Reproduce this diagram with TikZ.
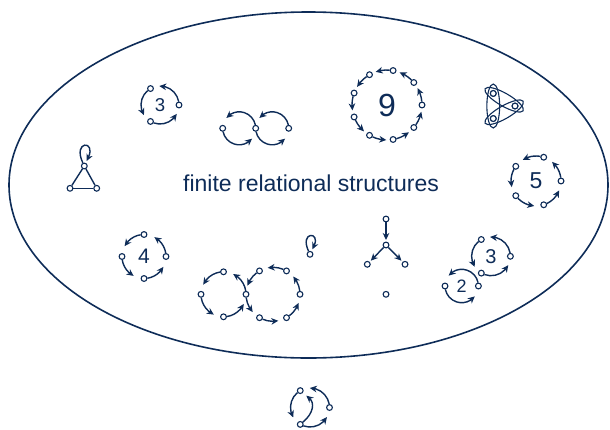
\documentclass[tikz,border=0pt]{standalone}
\usepackage{fontspec}
\setmainfont{Liberation Sans}
\usetikzlibrary{calc,arrows.meta}
\definecolor{navy}{RGB}{14,44,88}
\begin{document}
\begin{tikzpicture}[x=0.5pt,y=0.5pt,
 v/.style={circle,draw=navy,fill=white,line width=0.55pt,inner sep=0pt,minimum size=2.9pt},
 arr/.style={draw=navy,line width=0.7pt,-{Stealth[length=3.5pt,width=3.3pt,inset=1.1pt]},shorten >=3.2pt},
 sarr/.style={arr,shorten >=0.8pt},
 larr/.style={arr,shorten >=1pt},
 cyc/.style={draw=navy,line width=0.7pt,-{Stealth[length=3.5pt,width=3.3pt,inset=1.1pt]}},
 edgeline/.style={draw=navy,line width=0.7pt},
 hyper/.style={draw=navy,line width=0.55pt},
 num/.style={text=navy,inner sep=0pt},
 ring/.style n args={5}{to path={($(#1)+({#2+195/#4}:#4)$) arc[start angle={#2+195/#4}, end angle={#3-(#5+3)*114.6/#4}, radius=#4] -- ($(#1)+({#3-#5*114.6/#4}:#4)$)}}]
\useasboundingbox (0,0) rectangle (610,-429);

% big ellipse and title
\draw[edgeline,line width=0.8pt] (308.5,-185) ellipse [x radius=299.5,y radius=173];
\node[num,font=\fontsize{11.5}{13}\selectfont] (title) at (311,-183) {finite relational structures};

% 3-cycle top left
\coordinate (cA) at (160,-105);
\node[v] (a1) at ($(cA)+(0:19)$) {};
\node[v] (a2) at ($(cA)+(120:19)$) {};
\node[v] (a3) at ($(cA)+(240:19)$) {};
\node[num,font=\fontsize{9.3}{10}\selectfont] (la) at (cA) {3};
\draw[cyc] (a1) to[ring={cA}{0}{120}{19}{4.6}] (a2);
\draw[cyc] (a2) to[ring={cA}{120}{240}{19}{4.6}] (a3);
\draw[cyc] (a3) to[ring={cA}{240}{360}{19}{4.6}] (a1);

% double loop
\coordinate (cDl) at (239.2,-128.3);
\coordinate (cDr) at (272.2,-128.3);
\node[v] (d1) at (222.7,-128.3) {};
\node[v] (d2) at (255.7,-128.3) {};
\node[v] (d3) at (288.7,-128.3) {};
\draw[cyc] (d2) to[ring={cDl}{0}{180}{16.5}{5.6}] (d1);
\draw[cyc] (d1) to[ring={cDl}{180}{360}{16.5}{5.6}] (d2);
\draw[cyc] (d3) to[ring={cDr}{0}{180}{16.5}{5.6}] (d2);
\draw[cyc] (d2) to[ring={cDr}{180}{360}{16.5}{5.6}] (d3);

% 9-cycle
\coordinate (cE) at (387,-105);
\foreach \k in {0,...,8} \node[v] (e\k) at ($(cE)+({40*\k}:35)$) {};
\node[num,font=\fontsize{16}{18}\selectfont] (le) at (cE) {9};
\foreach \k in {0,...,8} {
  \pgfmathtruncatemacro{\nk}{mod(\k+1,9)}
  \draw[cyc] (e\k) to[ring={cE}{40*\k}{40*\k+40}{35}{3.4}] (e\nk);
}

% hypergraph triangle
\coordinate (cF) at (500.5,-106);
\node[v] (h1) at ($(cF)+(0:14.5)$) {};
\node[v] (h2) at ($(cF)+(120:14.5)$) {};
\node[v] (h3) at ($(cF)+(240:14.5)$) {};
\coordinate (m12) at ($(h1)!0.5!(h2)$);
\coordinate (m23) at ($(h2)!0.5!(h3)$);
\coordinate (m31) at ($(h3)!0.5!(h1)$);
\draw[hyper,shift={(m12)},rotate=150] (0,0) ellipse [x radius=22,y radius=6.4];
\draw[hyper,shift={(m23)},rotate=90] (0,0) ellipse [x radius=22,y radius=6.4];
\draw[hyper,shift={(m31)},rotate=30] (0,0) ellipse [x radius=22,y radius=6.4];
\node[v] at (h1) {};
\node[v] at (h2) {};
\node[v] at (h3) {};

% triangle with loop
\node[v] (t1) at (84.3,-166) {};
\node[v] (t2) at (70,-188.3) {};
\node[v] (t3) at (96.7,-188.3) {};
\draw[edgeline] (t1) -- (t2);
\draw[edgeline] (t2) -- (t3);
\draw[edgeline] (t3) -- (t1);
\draw[larr] (t1) to[out=115,in=65,min distance=12.5pt] (t1);

% 5-cycle
\coordinate (cH) at (536,-181);
\foreach \k in {0,...,4} \node[v] (f\k) at ($(cH)+({72*\k}:25)$) {};
\node[num,font=\fontsize{11.5}{13}\selectfont] (lf) at (cH) {5};
\foreach \k in {0,...,4} {
  \pgfmathtruncatemacro{\nk}{mod(\k+1,5)}
  \draw[cyc] (f\k) to[ring={cH}{72*\k}{72*\k+72}{25}{4.8}] (f\nk);
}

% 4-cycle
\coordinate (cI) at (144,-256.5);
\foreach \k in {0,...,3} \node[v] (g\k) at ($(cI)+({90*\k}:22)$) {};
\node[num,font=\fontsize{10.5}{12}\selectfont] (lg) at (cI) {4};
\foreach \k in {0,...,3} {
  \pgfmathtruncatemacro{\nk}{mod(\k+1,4)}
  \draw[cyc] (g\k) to[ring={cI}{90*\k}{90*\k+90}{22}{5.4}] (g\nk);
}

% figure eight
\coordinate (cJl) at (223.5,-294.3);
\coordinate (cJr) at (273,-294.3);
\node[v] (j0) at (246,-294.3) {};
\node[v] (j1) at ($(cJl)+(90:22.5)$) {};
\node[v] (j2) at ($(cJl)+(180:22.5)$) {};
\node[v] (j3) at ($(cJl)+(270:22.5)$) {};
\node[v] (k1) at ($(cJr)+(240:27)$) {};
\node[v] (k2) at ($(cJr)+(300:27)$) {};
\node[v] (k3) at ($(cJr)+(0:27)$) {};
\node[v] (k4) at ($(cJr)+(60:27)$) {};
\node[v] (k5) at ($(cJr)+(120:27)$) {};
\draw[cyc] (j0) to[ring={cJl}{0}{90}{22.5}{5}] (j1);
\draw[cyc] (j1) to[ring={cJl}{90}{180}{22.5}{5}] (j2);
\draw[cyc] (j2) to[ring={cJl}{180}{270}{22.5}{5}] (j3);
\draw[cyc] (j3) to[ring={cJl}{270}{360}{22.5}{5}] (j0);
\draw[cyc] (j0) to[ring={cJr}{180}{240}{27}{4.4}] (k1);
\draw[cyc] (k1) to[ring={cJr}{240}{300}{27}{4.4}] (k2);
\draw[cyc] (k2) to[ring={cJr}{300}{360}{27}{4.4}] (k3);
\draw[cyc] (k3) to[ring={cJr}{0}{60}{27}{4.4}] (k4);
\draw[cyc] (k4) to[ring={cJr}{60}{120}{27}{4.4}] (k5);
\draw[cyc] (k5) to[ring={cJr}{120}{180}{27}{4.4}] (j0);

% single loop
\node[v] (q) at (310,-254.3) {};
\draw[larr] (q) to[out=115,in=65,min distance=11pt] (q);

% tree and isolated node
\node[v] (p1) at (386,-219) {};
\node[v] (p2) at (386,-245) {};
\node[v] (p3) at (367.3,-264.3) {};
\node[v] (p4) at (405,-264.3) {};
\node[v] (p5) at (386,-294.3) {};
\draw[sarr] (p1) -- (p2);
\draw[sarr] (p2) -- (p3);
\draw[sarr] (p2) -- (p4);

% 3-cycle lower right
\coordinate (cM) at (491,-256.3);
\node[v] (r1) at ($(cM)+(0:19.4)$) {};
\node[v] (r2) at ($(cM)+(120:19.4)$) {};
\node[v] (r3) at ($(cM)+(240:19.4)$) {};
\node[num,font=\fontsize{10}{12}\selectfont] (lr) at (cM) {3};
\draw[cyc] (r1) to[ring={cM}{0}{120}{19.4}{4.6}] (r2);
\draw[cyc] (r2) to[ring={cM}{120}{240}{19.4}{4.6}] (r3);
\draw[cyc] (r3) to[ring={cM}{240}{360}{19.4}{4.6}] (r1);

% 2-cycle
\coordinate (cN) at (461.7,-286);
\node[v] (s1) at ($(cN)+(0:16.7)$) {};
\node[v] (s2) at ($(cN)+(180:16.7)$) {};
\node[num,font=\fontsize{9}{11}\selectfont] (ls) at (cN) {2};
\draw[cyc] (s1) to[ring={cN}{0}{180}{16.7}{5.6}] (s2);
\draw[cyc] (s2) to[ring={cN}{180}{360}{16.7}{5.6}] (s1);

% outside structure
\coordinate (cO) at (310,-407.5);
\node[v] (o1) at ($(cO)+(0:19.5)$) {};
\node[v] (o2) at ($(cO)+(120:19.5)$) {};
\node[v] (o3) at ($(cO)+(240:19.5)$) {};
\draw[cyc] (o1) to[ring={cO}{0}{120}{19.5}{5}] (o2);
\draw[cyc] (o2) to[ring={cO}{120}{240}{19.5}{5}] (o3);
\draw[cyc] (o3) to[ring={cO}{240}{360}{19.5}{5}] (o1);
\draw[arr,shorten >=2.2pt] (o3) to[bend right=50,looseness=1.3] (o2);
\end{tikzpicture}
\end{document}
